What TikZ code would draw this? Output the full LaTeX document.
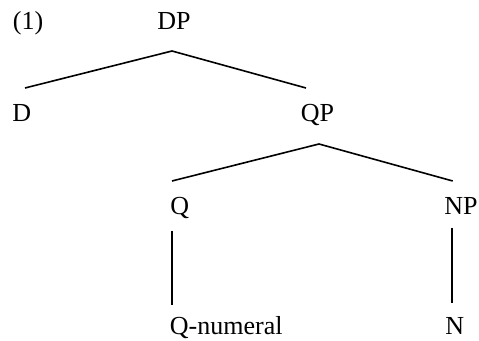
\documentclass[tikz,border=0pt]{standalone}
\usepackage{fontspec}
\setmainfont{Liberation Serif}
\usetikzlibrary{positioning}
\tikzset{cat node/.style={anchor=base west,inner sep=0pt,font=\fontsize{13}{15}\selectfont},
         branch/.style={line width=0.8pt}}

\begin{document}
\begin{tikzpicture}[x=0.5pt,y=-0.5pt]
  \useasboundingbox (0,0) rectangle (479,341);

  % categories
  \node[cat node] (ex) at (12.5,30) {(1)};
  \node[cat node] (dp) at (157,30) {DP};
  \node[cat node] (d) at (12,121.5) {D};
  \node[cat node] (qp) at (300.5,121.5) {QP};
  \node[cat node] (q) at (170,214.5) {Q};
  \node[cat node] (np) at (444,214.5) {NP};
  \node[cat node] (qnum) at (169.5,334.5) {Q-numeral};
  \node[cat node] (n) at (445,334.5) {N};

  % branch ends under and over the labels
  \coordinate (dp-bot) at (172,51);
  \coordinate (d-top) at (25,88);
  \coordinate (qp-top) at (306,88);
  \coordinate (qp-bot) at (319,144);
  \coordinate (q-top) at (172,181);
  \coordinate (np-top) at (452.7,181);
  \coordinate (q-bot) at (172.3,230.7);
  \coordinate (qnum-top) at (172.3,305);
  \coordinate (np-bot) at (452.3,228);
  \coordinate (n-top) at (452.3,302.7);

  \draw[branch] (d-top) -- (dp-bot) -- (qp-top);
  \draw[branch] (q-top) -- (qp-bot) -- (np-top);
  \draw[branch] (q-bot) -- (qnum-top);
  \draw[branch] (np-bot) -- (n-top);
\end{tikzpicture}
\end{document}
